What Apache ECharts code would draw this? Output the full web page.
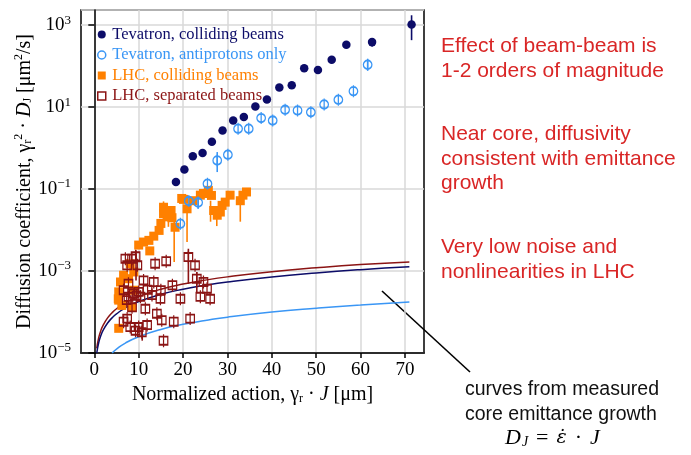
<!DOCTYPE html>
<html>
<head>
<meta charset="utf-8">
<script src="https://cdn.jsdelivr.net/npm/echarts@6/dist/echarts.min.js"></script>
<style>
html, body { margin: 0; padding: 0; background: #fff; }
#chart { width: 691px; height: 455px; }
</style>
</head>
<body>
<div id="chart"></div>
<script>
// Tevatron, colliding beams
const tevCollJ = [18.4, 20.3, 22.2, 24.4, 26.5, 28.9, 31.3, 33.7, 36.3, 38.9, 41.7, 44.5, 47.3, 50.4, 53.5, 56.8, 62.6, 71.5];
const tevCollD = [0.148, 0.30, 0.63, 0.76, 1.43, 2.7, 4.7, 5.7, 10.4, 15.4, 30, 34, 89, 80, 143, 330, 385, 1040];

// Tevatron, antiprotons only
const tevPbarJ = [19.4, 21.3, 23.4, 25.5, 27.7, 30.1, 32.4, 34.8, 37.6, 40.2, 43.0, 45.8, 48.8, 51.8, 55.0, 58.4, 61.6];
const tevPbarD = [0.0143, 0.051, 0.047, 0.135, 0.50, 0.69, 2.97, 2.97, 5.4, 4.7, 8.6, 8.3, 7.5, 11.6, 15.1, 24.5, 108];

// LHC, colliding beams
const lhcCollJ = [5.5, 5.5, 5.4, 5.5, 5.9, 6.2, 6.6, 7.7, 8.1, 8.9, 8.5, 8.9, 10.0, 11.1, 12.5, 12.3, 13.4, 14.6, 15.0, 15.6,
  15.6, 16.4, 16.9, 17.3, 17.5, 18.2, 19.7, 20.1, 20.9, 22.2, 23.9, 24.6, 25.7, 26.4, 26.9, 27.7, 28.4, 28.8, 29.5, 30.6,
  32.9, 33.5, 34.3];
const lhcCollD = [4.0e-5, 1.95e-4, 2.1e-4, 3.1e-4, 5.4e-4, 1.45e-4, 7.9e-4, 6.5e-4, 1.5e-3, 9.5e-4, 1.3e-4, 3.4e-4, 4.3e-3, 5.1e-3, 3.1e-3, 5.6e-3, 7.1e-3, 9.8e-3, 0.0145, 0.025,
  0.036, 0.021, 0.024, 0.030, 0.020, 0.0117, 0.059, 0.056, 0.033, 0.052, 0.071, 0.078, 0.093, 0.070, 0.030, 0.023, 0.0275, 0.040, 0.048, 0.071,
  0.052, 0.071, 0.085];

// LHC, separated beams
const lhcSepJ = [7.0, 7.4, 8.5, 9.3, 9.7, 13.7, 16.2, 21.2, 22.7, 23.1, 24.6, 25.4, 23.9, 26.1, 19.4, 21.6, 17.9, 7.7, 11.1, 13.4,
  10.0, 7.7, 9.5, 13.0, 14.9, 17.6, 11.5, 8.5, 14.1, 7.4, 15.2, 11.9, 10.0, 8.1, 10.7, 15.6, 6.6, 9.3, 6.6, 8.9,
  12.0, 15.0, 7.3, 10.4];
const lhcSepD = [2.0e-3, 1.38e-3, 2.0e-3, 2.29e-3, 1.38e-3, 1.51e-3, 1.74e-3, 2.19e-3, 1.38e-3, 6.5e-4, 5.4e-4, 3.7e-4, 2.35e-4, 2.1e-4, 2.1e-4, 6.9e-5, 5.8e-5, 4.9e-4, 5.9e-4, 5.4e-4,
  3.1e-4, 2.35e-4, 2.5e-4, 2.6e-4, 2.1e-4, 4.5e-4, 1.2e-4, 1.3e-4, 9.1e-5, 6.9e-5, 6.3e-5, 4.8e-5, 4.3e-5, 4.3e-5, 3.2e-5, 2.0e-5, 5.8e-5, 3.5e-5, 3.4e-4, 2.8e-4,
  3.5e-4, 3.4e-4, 1.95e-4, 2.35e-4];

// error bars: [J, low, high]
const tevCollErr = [[62.6, 295, 470], [71.5, 430, 1740]];
const tevPbarErr = [[23.4, 0.033, 0.064], [27.7, 0.26, 0.80], [61.6, 78, 150]];
const lhcCollErr = [[15.6, 0.025, 0.05], [16.7, 0.012, 0.03], [18.0, 0.00166, 0.023], [20.9, 0.0051, 0.04],
  [26.2, 0.016, 0.052], [27.6, 0.0125, 0.03], [32.9, 0.016, 0.052]];
const lhcSepErr = [[21.2, 4.9e-4, 3.5e-3], [9.4, 5.9e-4, 3.2e-3], [23.1, 3.1e-4, 9.5e-4], [10.8, 2.0e-5, 5.2e-5]];

// curves from measured core emittance growth
const curveJ = [0.55, 1, 1.5, 2, 3, 4, 5, 7, 10, 15, 20, 25, 30, 40, 50, 60, 71];
const curveLhcSep = [1.3e-5, 2.4e-5, 3.6e-5, 4.8e-5, 7.2e-5, 9.6e-5, 1.2e-4, 1.7e-4, 2.4e-4, 3.6e-4, 4.8e-4, 6.0e-4, 7.2e-4, 9.6e-4, 1.2e-3, 1.44e-3, 1.66e-3];
const curveTev = [1.0e-5, 1.8e-5, 2.7e-5, 3.6e-5, 5.4e-5, 7.2e-5, 9.0e-5, 1.26e-4, 1.8e-4, 2.7e-4, 3.6e-4, 4.5e-4, 5.4e-4, 7.2e-4, 9.0e-4, 1.08e-3, 1.27e-3];
const curvePbarJ = [4, 5, 7, 10, 15, 20, 25, 30, 40, 50, 60, 71];
const curvePbar = [1.0e-5, 1.25e-5, 1.75e-5, 2.5e-5, 3.75e-5, 5.0e-5, 6.2e-5, 7.5e-5, 1.0e-4, 1.24e-4, 1.49e-4, 1.76e-4];

const xTicks = [0, 10, 20, 30, 40, 50, 60, 70];

const NAVY = "#0c0c68";
const BLUE = "#3a96f5";
const ORANGE = "#ff8000";
const DRED = "#8b1414";
const RED = "#d92626";
const SERIF = '"Liberation Serif", "DejaVu Serif", serif';
const SANS = '"Liberation Sans", Arial, sans-serif';
const SQUARE = "path://M0,0H10V10H0Z";

const zip = (a, b) => a.map((v, i) => [v, b[i]]);

function errorSeries(bars, color, z) {
	return {
		type: "custom",
		silent: true,
		z: z,
		encode: { x: 0, y: [1, 2] },
		data: bars,
		renderItem: (params, api) => {
			const p1 = api.coord([api.value(0), api.value(1)]);
			const p2 = api.coord([api.value(0), api.value(2)]);
			return {
				type: "line",
				shape: { x1: p1[0], y1: p1[1], x2: p2[0], y2: p2[1] },
				style: { stroke: color, lineWidth: 1.6 },
			};
		},
	};
}

let chart = echarts.init(document.getElementById("chart"));

const sup = { fontSize: 12, fontFamily: SERIF, color: "#000", padding: [0, 0, 10, 0] };
const sub = { fontSize: 12, fontFamily: SERIF, color: "#000", padding: [7, 0, 0, 0] };

let option = {
	animation: false,
	grid: {
		left: 81,
		right: 267,
		top: 10,
		bottom: 102,
		show: true,
		borderColor: "#000",
		borderWidth: 1.5,
		backgroundColor: "transparent",
	},
	legend: {
		orient: "vertical",
		left: 92,
		top: 21,
		itemWidth: 9,
		itemHeight: 8,
		itemGap: 3.5,
		selectedMode: false,
		textStyle: { fontFamily: SERIF, fontSize: 16.5, padding: [0, 0, 0, 1] },
		data: [
			{ name: "Tevatron, colliding beams", icon: "circle", textStyle: { color: NAVY } },
			{ name: "Tevatron, antiprotons only", icon: "circle", itemStyle: { color: "#fff", borderColor: BLUE, borderWidth: 1.5 }, textStyle: { color: BLUE } },
			{ name: "LHC, colliding beams", icon: SQUARE, itemStyle: { color: ORANGE }, textStyle: { color: ORANGE } },
			{ name: "LHC, separated beams", icon: SQUARE, itemStyle: { color: "#fff", borderColor: DRED, borderWidth: 1.5 }, textStyle: { color: DRED } },
		],
	},
	xAxis: {
		type: "value",
		min: -3,
		max: 74.3,
		name: "Normalized action, {g|γ}{sub|r} · {i|J} [μm]",
		nameLocation: "middle",
		nameGap: 32,
		nameTextStyle: {
			fontFamily: SERIF,
			fontSize: 20,
			color: "#000",
			rich: {
				g: { fontFamily: SERIF, fontSize: 20, color: "#000" },
				i: { fontFamily: SERIF, fontSize: 20, fontStyle: "italic", color: "#000" },
				sub: sub,
			},
		},
		axisLine: { onZero: false, lineStyle: { color: "#000", width: 1.5 } },
		axisTick: { customValues: xTicks, length: 5, lineStyle: { color: "#000", width: 1.5 } },
		axisLabel: { customValues: xTicks, fontFamily: SERIF, fontSize: 19, color: "#000", margin: 8 },
		splitLine: { show: true, lineStyle: { color: "#d9d9d9", width: 1.5 } },
	},
	yAxis: {
		type: "log",
		logBase: 10,
		min: 1e-5,
		max: 2340,
		interval: 2,
		name: "Diffusion coefficient, {g|γ}{sub|r}{sup|2} · {i|D}{sub|J} [μm{sup|2}/s]",
		nameLocation: "middle",
		nameGap: 44,
		nameTextStyle: {
			fontFamily: SERIF,
			fontSize: 20,
			color: "#000",
			rich: {
				g: { fontFamily: SERIF, fontSize: 20, color: "#000" },
				i: { fontFamily: SERIF, fontSize: 20, fontStyle: "italic", color: "#000" },
				sub: sub,
				sup: sup,
			},
		},
		axisLine: { show: true, lineStyle: { color: "#000", width: 1.5 } },
		axisTick: { show: true, length: 6, lineStyle: { color: "#000", width: 1.5 } },
		axisLabel: {
			margin: 10,
			formatter: (v) => {
				const e = Math.round(Math.log10(v));
				return "{b|10}{s|" + (e < 0 ? "−" + -e : e) + "}";
			},
			rich: {
				b: { fontFamily: SERIF, fontSize: 19, color: "#000" },
				s: { fontFamily: SERIF, fontSize: 13, color: "#000", padding: [0, 0, 10, 0] },
			},
		},
		splitLine: { show: true, lineStyle: { color: "#d9d9d9", width: 1.5 } },
		minorTick: { show: false },
	},
	series: [
		{
			type: "line",
			data: zip(curveJ, curveLhcSep),
			smooth: true,
			symbol: "none",
			z: 1,
			lineStyle: { color: DRED, width: 1.5 },
			silent: true,
		},
		{
			type: "line",
			data: zip(curveJ, curveTev),
			smooth: true,
			symbol: "none",
			z: 1,
			lineStyle: { color: NAVY, width: 1.5 },
			silent: true,
		},
		{
			type: "line",
			data: zip(curvePbarJ, curvePbar),
			smooth: true,
			symbol: "none",
			z: 1,
			lineStyle: { color: BLUE, width: 1.5 },
			silent: true,
		},
		errorSeries(lhcCollErr, ORANGE, 2),
		{
			name: "LHC, colliding beams",
			type: "scatter",
			symbol: "rect",
			symbolSize: 9,
			z: 3,
			itemStyle: { color: ORANGE, opacity: 1 },
			data: zip(lhcCollJ, lhcCollD),
		},
		errorSeries(lhcSepErr, DRED, 4),
		{
			name: "LHC, separated beams",
			type: "scatter",
			symbol: "path://M0,3H10V13H0Z M5,0V16",
			symbolSize: [8.5, 13],
			z: 5,
			itemStyle: { color: "rgba(0,0,0,0)", borderColor: DRED, borderWidth: 1.5, opacity: 1 },
			data: zip(lhcSepJ, lhcSepD),
		},
		errorSeries(tevPbarErr, BLUE, 6),
		{
			name: "Tevatron, antiprotons only",
			type: "scatter",
			symbol: "path://M0,8A5,5 0 1,1 10,8A5,5 0 1,1 0,8Z M5,1V15",
			symbolSize: [8.5, 12],
			z: 7,
			itemStyle: { color: "rgba(0,0,0,0)", borderColor: BLUE, borderWidth: 1.5, opacity: 1 },
			data: zip(tevPbarJ, tevPbarD),
		},
		errorSeries(tevCollErr, NAVY, 8),
		{
			name: "Tevatron, colliding beams",
			type: "scatter",
			symbol: "circle",
			symbolSize: 8.5,
			z: 9,
			itemStyle: { color: NAVY, opacity: 1 },
			data: zip(tevCollJ, tevCollD),
		},
	],
	graphic: [
		{
			type: "text",
			left: 441,
			top: 34,
			style: { text: "Effect of beam-beam is\n1-2 orders of magnitude", fill: RED, font: "21px " + SANS, lineHeight: 25 },
		},
		{
			type: "text",
			left: 441,
			top: 122,
			style: { text: "Near core, diffusivity\nconsistent with emittance\ngrowth", fill: RED, font: "21px " + SANS, lineHeight: 24.5 },
		},
		{
			type: "text",
			left: 441,
			top: 235,
			style: { text: "Very low noise and\nnonlinearities in LHC", fill: RED, font: "21px " + SANS, lineHeight: 25 },
		},
		{
			type: "text",
			left: 465,
			top: 377,
			style: { text: "curves from measured\ncore emittance growth", fill: "#111", font: "19.5px " + SANS, lineHeight: 25 },
		},
		{
			type: "text",
			left: 505,
			top: 427,
			style: {
				text: "{i|D}{s|J}{n|=}{e|ε̇}{n|·}{i|J}",
				rich: {
					i: { fontFamily: SERIF, fontSize: 22, fontStyle: "italic", fill: "#000" },
					e: { fontFamily: '"DejaVu Serif", serif', fontSize: 19, fontStyle: "italic", fill: "#000" },
					n: { fontFamily: SERIF, fontSize: 22, fill: "#000", padding: [0, 8, 0, 8] },
					s: { fontFamily: SERIF, fontSize: 14, fontStyle: "italic", fill: "#000", padding: [8, 0, 0, 1] },
				},
			},
		},
		{
			type: "line",
			shape: { x1: 382, y1: 291, x2: 470, y2: 372 },
			style: { stroke: "#000", lineWidth: 1.6 },
		},
	],
};

chart.setOption(option);
</script>
</body>
</html>
